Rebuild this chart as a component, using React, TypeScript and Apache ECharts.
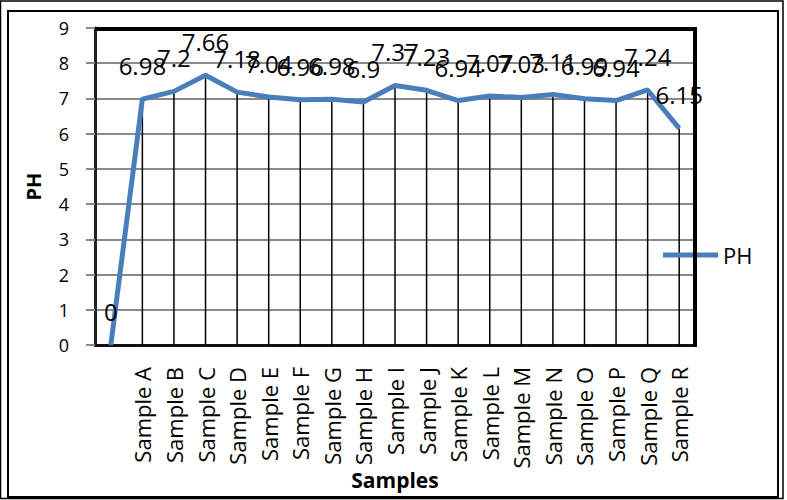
import React, { useEffect, useRef } from "react";
import * as echarts from "echarts";

const categories = [
  "",
  "Sample A", "Sample B", "Sample C", "Sample D", "Sample E", "Sample F",
  "Sample G", "Sample H", "Sample I", "Sample J", "Sample K", "Sample L",
  "Sample M", "Sample N", "Sample O", "Sample P", "Sample Q", "Sample R",
];
const phValues = [
  0, 6.98, 7.2, 7.66, 7.18, 7.04, 6.96, 6.98, 6.9, 7.37, 7.23, 6.94, 7.07,
  7.03, 7.11, 6.99, 6.94, 7.24, 6.15,
];
const seriesName = "PH";
const xAxisTitle = "Samples";
const yAxisTitle = "PH";
const yMin = 0;
const yMax = 9;
const yInterval = 1;

const FONT = "'Open Sans', 'Liberation Sans', sans-serif";

export default function App() {
  const ref = useRef<HTMLDivElement>(null);
  useEffect(() => {
    if (!ref.current) return;
    const chart = echarts.init(ref.current, undefined, { renderer: "svg" });
    const option: any = {
      animation: false,
      backgroundColor: "#ffffff",
      textStyle: { fontFamily: FONT, color: "#000" },
      grid: {
        left: 95,
        top: 28,
        right: 92,
        bottom: 155,
        containLabel: false,
        outerBoundsMode: "none",
      },
      legend: {
        data: [seriesName],
        left: 663,
        top: 243,
        padding: 0,
        icon: "rect",
        itemWidth: 55,
        itemHeight: 5,
        itemGap: 6,
        textStyle: { fontSize: 22, fontFamily: FONT, color: "#000", lineHeight: 24 },
      },
      xAxis: {
        type: "category",
        data: categories,
        boundaryGap: true,
        name: xAxisTitle,
        nameLocation: "middle",
        nameGap: 124,
        nameMoveOverlap: false,
        nameTextStyle: { fontSize: 21, fontWeight: "bold", fontFamily: FONT, color: "#000" },
        axisLine: { show: true, lineStyle: { color: "#111", width: 3 } },
        axisTick: { show: false },
        axisLabel: {
          rotate: 90,
          interval: 0,
          margin: 22,
          fontSize: 22,
          fontFamily: FONT,
          color: "#000",
        },
        splitLine: { show: false },
      },
      yAxis: {
        type: "value",
        min: yMin,
        max: yMax,
        interval: yInterval,
        name: yAxisTitle,
        nameLocation: "middle",
        nameGap: 52,
        nameMoveOverlap: false,
        nameRotate: 90,
        nameTextStyle: { fontSize: 20, fontWeight: "bold", fontFamily: FONT, color: "#000" },
        axisLine: { show: true, lineStyle: { color: "#222", width: 3 } },
        axisTick: { show: true, length: 9, lineStyle: { color: "#888", width: 2 } },
        axisLabel: { margin: 26, fontSize: 18, fontFamily: FONT, color: "#000" },
        splitLine: { show: true, lineStyle: { color: "#8a8a8a", width: 2 } },
      },
      series: [
        {
          name: "drop",
          type: "bar",
          data: phValues,
          barWidth: 1.5,
          itemStyle: { color: "#000" },
          silent: true,
          z: 1,
          label: { show: false },
        },
        {
          name: seriesName,
          type: "line",
          data: phValues,
          symbol: "circle",
          symbolSize: 1,
          showAllSymbol: true,
          itemStyle: { color: "#4a7ebb" },
          lineStyle: { color: "#4a7ebb", width: 5 },
          z: 3,
          label: {
            show: true,
            position: "top",
            distance: 21,
            fontSize: 24,
            fontFamily: FONT,
            color: "#000",
          },
        },
      ],
      graphic: [
        {
          type: "rect",
          shape: { x: 0.5, y: 1, width: 782.5, height: 497.5 },
          style: { fill: "none", stroke: "#000", lineWidth: 1.5 },
          silent: true,
        },
        {
          type: "rect",
          shape: { x: 8, y: 11, width: 770, height: 486 },
          style: { fill: "none", stroke: "#000", lineWidth: 2 },
          silent: true,
        },
        {
          type: "line",
          shape: { x1: 95, y1: 29, x2: 697, y2: 29 },
          style: { stroke: "#000", lineWidth: 4 },
          silent: true,
          z: 10,
        },
        {
          type: "line",
          shape: { x1: 695, y1: 27, x2: 695, y2: 347 },
          style: { stroke: "#000", lineWidth: 4 },
          silent: true,
          z: 10,
        },
      ],
    };
    chart.setOption(option);
    return () => chart.dispose();
  }, []);
  return (
    <div
      ref={ref}
      style={{ position: "fixed", left: 0, top: 0, width: 787, height: 500 }}
    />
  );
}
